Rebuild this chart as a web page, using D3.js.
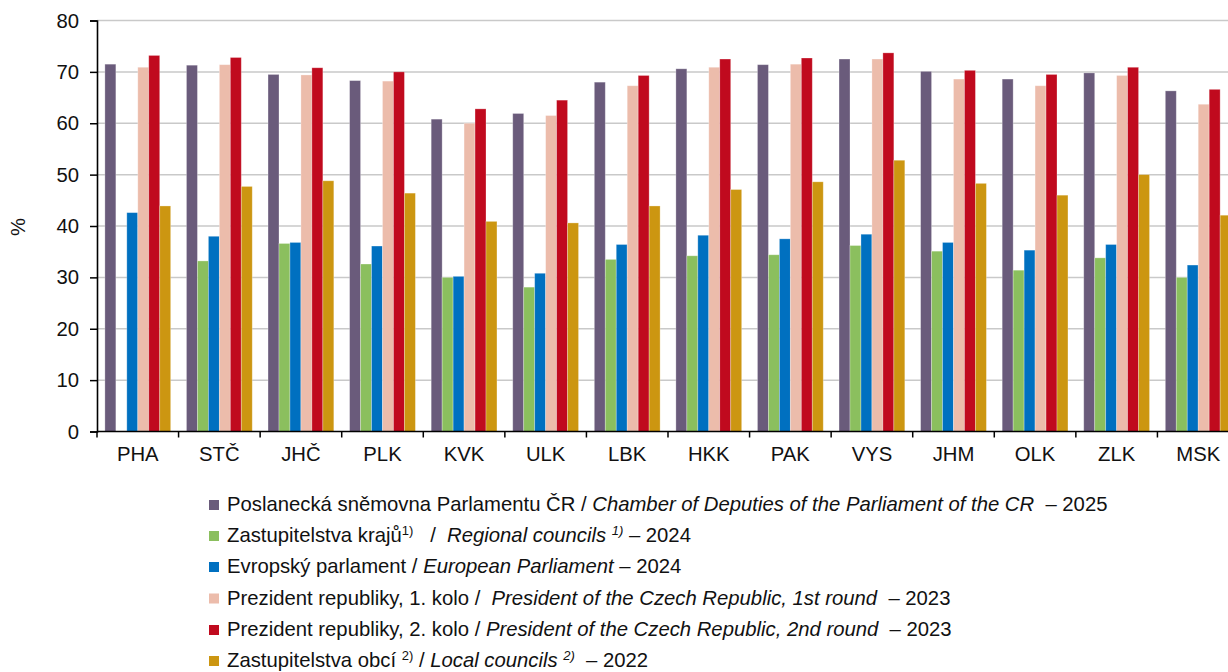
<!DOCTYPE html>
<html>
<head>
<meta charset="utf-8">
<script src="https://cdn.jsdelivr.net/npm/d3@7"></script>
<style>
  body { margin: 0; background: #fff; }
  svg { display: block; font-family: "Liberation Sans", Arial, sans-serif; }
  text { white-space: pre; }
</style>
</head>
<body>
<svg id="chart" width="1228" height="672"></svg>
<script>
// Regions (kraje)
const regions = ["PHA", "STČ", "JHČ", "PLK", "KVK", "ULK", "LBK", "HKK", "PAK", "VYS", "JHM", "OLK", "ZLK", "MSK"];

// Turnout (%) by election
const chamber2025   = [71.5, 71.3, 69.5, 68.3, 60.8, 61.9, 68.0, 70.6, 71.4, 72.5, 70.1, 68.6, 69.8, 66.3];
const regional2024  = [null, 33.2, 36.6, 32.6, 30.0, 28.1, 33.5, 34.2, 34.4, 36.2, 35.1, 31.4, 33.8, 30.0];
const european2024  = [42.6, 38.0, 36.8, 36.1, 30.2, 30.8, 36.4, 38.2, 37.5, 38.4, 36.8, 35.3, 36.4, 32.4];
const president1    = [70.9, 71.4, 69.4, 68.2, 60.0, 61.5, 67.3, 70.9, 71.5, 72.5, 68.6, 67.3, 69.3, 63.7];
const president2    = [73.2, 72.8, 70.8, 70.0, 62.8, 64.5, 69.3, 72.5, 72.7, 73.7, 70.3, 69.5, 70.9, 66.6];
const local2022     = [43.9, 47.7, 48.8, 46.4, 40.9, 40.6, 43.9, 47.1, 48.6, 52.8, 48.3, 46.0, 50.0, 42.1];

const yTicks = [0, 10, 20, 30, 40, 50, 60, 70, 80];

const seriesColors = ["#6a5b7b", "#8bbf5e", "#0070c0", "#ecbcab", "#c00a1e", "#cc9611"];

const series = [
  { values: chamber2025,  color: seriesColors[0] },
  { values: regional2024, color: seriesColors[1] },
  { values: european2024, color: seriesColors[2] },
  { values: president1,   color: seriesColors[3] },
  { values: president2,   color: seriesColors[4] },
  { values: local2022,    color: seriesColors[5] }
];

// Legend lines: array of text pieces [text, italic, superscript]
const legendItems = [
  [["Poslanecká sněmovna Parlamentu ČR / ", false, false], ["Chamber of Deputies of the Parliament of the CR", true, false], ["  – 2025", false, false]],
  [["Zastupitelstva krajů", false, false], ["1)", false, true], ["   /  ", false, false], ["Regional councils ", true, false], ["1)", true, true], [" – 2024", false, false]],
  [["Evropský parlament / ", false, false], ["European Parliament", true, false], [" – 2024", false, false]],
  [["Prezident republiky, 1. kolo /  ", false, false], ["President of the Czech Republic, 1st round", true, false], ["  – 2023", false, false]],
  [["Prezident republiky, 2. kolo / ", false, false], ["President of the Czech Republic, 2nd round", true, false], ["  – 2023", false, false]],
  [["Zastupitelstva obcí ", false, false], ["2)", false, true], [" / ", false, false], ["Local councils ", true, false], ["2)", true, true], ["  – 2022", false, false]]
];

const FONT = 20.3;

const svg = d3.select("#chart");
const plot = { left: 97, right: 1239, top: 20.5, bottom: 431.5 };

const x = d3.scaleBand().domain(regions).range([plot.left, plot.right]).paddingInner(0).paddingOuter(0);
const x1 = d3.scaleBand().domain(d3.range(series.length)).range([0, x.bandwidth()]).paddingInner(0).paddingOuter(0.72);
const y = d3.scaleLinear().domain([0, 80]).range([plot.bottom, plot.top]);

// gridlines
svg.append("g")
  .selectAll("line")
  .data(yTicks.filter(d => d > 0))
  .join("line")
  .attr("x1", plot.left).attr("x2", 1228)
  .attr("y1", d => y(d)).attr("y2", d => y(d))
  .attr("stroke", "#c9c9c9").attr("stroke-width", 1.5);

// bars
const groups = svg.append("g")
  .selectAll("g")
  .data(regions)
  .join("g")
  .attr("transform", d => `translate(${x(d)},0)`);

groups.selectAll("rect")
  .data((r, i) => series.map((s, k) => ({ k, v: s.values[i], color: s.color })).filter(d => d.v != null))
  .join("rect")
  .attr("x", d => x1(d.k))
  .attr("width", x1.bandwidth())
  .attr("y", d => y(d.v))
  .attr("height", d => y(0) - y(d.v))
  .attr("fill", d => d.color)
  .attr("stroke", "rgba(255,255,255,0.35)")
  .attr("stroke-width", 0.8);

// y axis
const yAxis = d3.axisLeft(y).tickValues(yTicks).tickSize(7).tickPadding(11);
svg.append("g")
  .attr("transform", `translate(${plot.left},0)`)
  .call(yAxis)
  .call(g => g.select(".domain").attr("stroke", "#000").attr("stroke-width", 1.6))
  .call(g => g.selectAll(".tick line").attr("stroke", "#000").attr("stroke-width", 1.5))
  .call(g => g.selectAll(".tick text").attr("font-size", FONT).attr("fill", "#111").attr("font-family", "Liberation Sans, Arial, sans-serif"));

// x axis: ticks at band boundaries
const xg = svg.append("g");
xg.append("line")
  .attr("x1", plot.left).attr("x2", 1228)
  .attr("y1", plot.bottom).attr("y2", plot.bottom)
  .attr("stroke", "#000").attr("stroke-width", 1.6);
xg.selectAll("line.tk")
  .data(regions)
  .join("line")
  .attr("class", "tk")
  .attr("x1", d => x(d)).attr("x2", d => x(d))
  .attr("y1", plot.bottom).attr("y2", plot.bottom + 6)
  .attr("stroke", "#000").attr("stroke-width", 1.5);
xg.selectAll("text")
  .data(regions)
  .join("text")
  .attr("x", d => x(d) + x.bandwidth() / 2)
  .attr("y", 461)
  .attr("text-anchor", "middle")
  .attr("font-size", FONT)
  .attr("fill", "#111")
  .text(d => d);

// y axis title
svg.append("text")
  .attr("transform", "translate(25,227) rotate(-90)")
  .attr("text-anchor", "middle")
  .attr("font-size", FONT)
  .attr("fill", "#111")
  .text("%");

// legend
const legend = svg.append("g").attr("transform", "translate(209,0)");
const rowY = [511, 542, 573, 604.5, 636, 667];
legendItems.forEach((parts, i) => {
  legend.append("rect")
    .attr("x", 0).attr("y", rowY[i] - 11)
    .attr("width", 10).attr("height", 10)
    .attr("fill", seriesColors[i]);
  const t = legend.append("text")
    .attr("x", 18).attr("y", rowY[i])
    .attr("font-size", FONT)
    .attr("fill", "#111");
  parts.forEach(([txt, it, sup]) => {
    const ts = t.append("tspan").text(txt);
    if (it) ts.attr("font-style", "italic");
    if (sup) {
      ts.attr("font-size", 13).attr("baseline-shift", "55%");
    }
  });
});
</script>
</body>
</html>
